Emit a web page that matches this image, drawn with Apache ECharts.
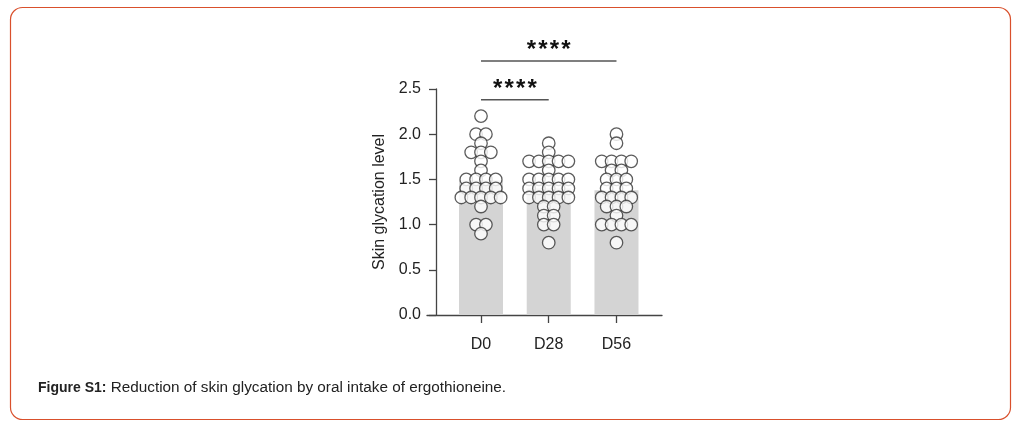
<!DOCTYPE html>
<html><head><meta charset="utf-8">
<script src="https://cdn.jsdelivr.net/npm/echarts@6/dist/echarts.min.js"></script>
<style>html,body{margin:0;padding:0;background:#fff}#c{width:1026px;height:425px}</style>
</head><body><div id="c"></div>
<script>
const categories = ['D0', 'D28', 'D56'];
const barMeans = [1.49, 1.40, 1.38];
const d0Values = [2.2, 2.0, 2.0, 1.9, 1.8, 1.8, 1.8, 1.7, 1.6, 1.5, 1.5, 1.5, 1.5, 1.4, 1.4, 1.4, 1.4, 1.3, 1.3, 1.3, 1.3, 1.3, 1.2, 1.0, 1.0, 0.9];
const d28Values = [1.9, 1.8, 1.7, 1.7, 1.7, 1.7, 1.7, 1.6, 1.5, 1.5, 1.5, 1.5, 1.5, 1.4, 1.4, 1.4, 1.4, 1.4, 1.3, 1.3, 1.3, 1.3, 1.3, 1.2, 1.2, 1.1, 1.1, 1.0, 1.0, 0.8];
const d56Values = [2.0, 1.9, 1.7, 1.7, 1.7, 1.7, 1.6, 1.6, 1.5, 1.5, 1.5, 1.4, 1.4, 1.4, 1.3, 1.3, 1.3, 1.3, 1.2, 1.2, 1.2, 1.1, 1.0, 1.0, 1.0, 1.0, 0.8];
const yTickValues = [0, 0.5, 1.0, 1.5, 2.0, 2.5];
const sigPairs = [[0, 1, '****'], [0, 2, '****']];
const sigLevels = [2.38, 2.81];
const captionBold = 'Figure S1:';
const captionText = ' Reduction of skin glycation by oral intake of ergothioneine.';

// simple beeswarm: dots with equal value share a row, centred on the category
function swarm(values, idx, step) {
  const rows = {};
  const order = [];
  values.forEach(v => {
    const k = v.toFixed(2);
    if (!rows[k]) { rows[k] = []; order.push(k); }
    rows[k].push(v);
  });
  const out = [];
  order.forEach(k => {
    const r = rows[k], n = r.length;
    r.forEach((v, i) => out.push([idx + (i - (n - 1) / 2) * step, v]));
  });
  return out;
}

const FONT = 'Liberation Sans, Arial, sans-serif';
const chart = echarts.init(document.getElementById('c'));
const groups = [d0Values, d28Values, d56Values];
const dotStyle = { color: '#ffffff', borderColor: '#333333', borderWidth: 1.3 };

chart.setOption({
  animation: false,
  grid: { left: 427, right: 364, top: 89, bottom: 110, containLabel: false },
  xAxis: {
    type: 'value', min: -0.797, max: 2.672,
    splitLine: { show: false },
    axisLine: { show: true, onZero: false, lineStyle: { color: '#444', width: 1.3 } },
    axisTick: { show: true, length: 8, customValues: [0, 1, 2], lineStyle: { color: '#444', width: 1.3 } },
    axisLabel: { customValues: [0, 1, 2], formatter: v => categories[Math.round(v)], margin: 22, fontSize: 16, color: '#222', fontFamily: FONT }
  },
  yAxis: {
    type: 'value', min: 0, max: 2.5, interval: 0.5, offset: -9,
    splitLine: { show: false },
    axisLine: { show: true, onZero: false, lineStyle: { color: '#444', width: 1.3 } },
    axisTick: { show: true, length: 7, lineStyle: { color: '#444', width: 1.3 } },
    axisLabel: { formatter: v => v.toFixed(1), margin: 15, fontSize: 16, color: '#222', fontFamily: FONT },
    name: 'Skin glycation level', nameLocation: 'middle', nameGap: 48,
    nameTextStyle: { fontSize: 16, color: '#222', fontFamily: FONT }
  },
  series: [
    { type: 'bar', data: barMeans.map((v, i) => [i, v]), barWidth: 44, itemStyle: { color: '#d4d4d4' }, silent: true, z: 1 }
  ].concat(groups.map((g, i) => ({
    type: 'scatter', name: categories[i], data: swarm(g, i, 0.145), symbol: 'circle', symbolSize: 12.5,
    itemStyle: dotStyle, z: 3, silent: true
  })))
});

const graphics = [];
sigPairs.forEach((p, k) => {
  const a = chart.convertToPixel({ xAxisIndex: 0, yAxisIndex: 0 }, [p[0], sigLevels[k]]);
  const b = chart.convertToPixel({ xAxisIndex: 0, yAxisIndex: 0 }, [p[1], sigLevels[k]]);
  graphics.push({ type: 'line', shape: { x1: a[0], y1: a[1], x2: b[0], y2: b[1] }, style: { stroke: '#555', lineWidth: 1.5 }, silent: true });
  const stars = p[2].split('');
  const mid = (a[0] + b[0]) / 2, gap = 11.5;
  stars.forEach((s, j) => {
    graphics.push({ type: 'text', x: mid + (j - (stars.length - 1) / 2) * gap, y: a[1] - 10.5, style: { text: s, fill: '#111', font: 'bold 24px ' + FONT, align: 'center', verticalAlign: 'middle' }, silent: true });
  });
});
graphics.push({ type: 'rect', shape: { x: 10.5, y: 7.5, width: 1000, height: 412, r: 12 }, style: { fill: 'none', stroke: '#d9502c', lineWidth: 1.2 }, silent: true });
graphics.push({
  type: 'text', x: 38, y: 388,
  style: {
    text: '{b|' + captionBold + '}{n|' + captionText + '}', verticalAlign: 'middle',
    rich: {
      b: { fontWeight: 'bold', fontSize: 14, fill: '#222', fontFamily: FONT },
      n: { fontSize: 15.3, fill: '#222', fontFamily: FONT }
    }
  }, silent: true
});
chart.setOption({ graphic: graphics });
</script>
</body></html>
